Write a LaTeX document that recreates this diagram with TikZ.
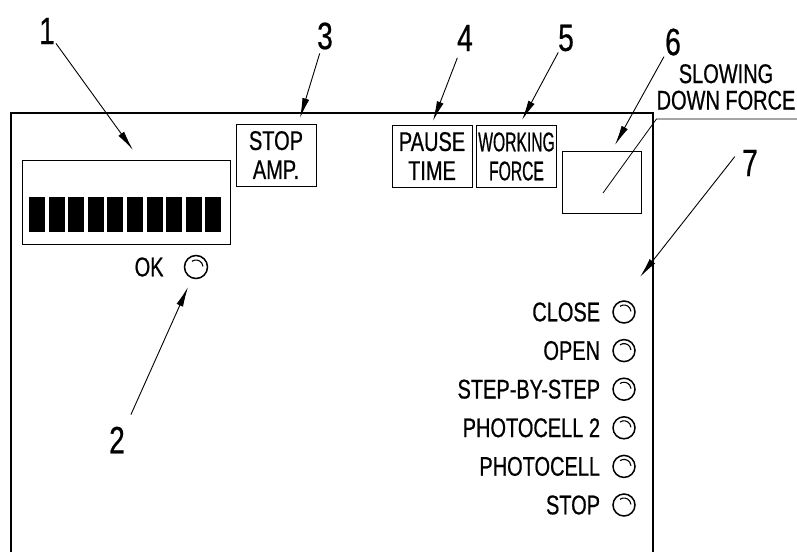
\documentclass[tikz,border=0pt]{standalone}
\usepackage{fontspec}
\setmainfont[FakeStretch=0.74, FakeBold=0.6]{Liberation Sans}
\newfontfamily\narrowfont[FakeStretch=0.58, FakeBold=0.6]{Liberation Sans}
\usetikzlibrary{arrows.meta, positioning}

\begin{document}
\begin{tikzpicture}[x=1pt, y=-1pt,
	lbl/.style={font=\fontsize{27}{29}\selectfont, inner sep=0pt},
	num/.style={font=\fontsize{38}{38}\selectfont, inner sep=1pt},
	knob/.style={draw, line width=1pt, align=center, inner sep=0pt,
		minimum width=80pt, minimum height=62pt, font=\fontsize{27}{29}\selectfont},
	led/.style={circle, draw, line width=1.5pt, minimum size=22pt, inner sep=0pt},
	callout/.style={-{Latex[length=20pt, width=7pt]}, line width=0.9pt}]
	\useasboundingbox (0,0) rectangle (797,552);
	% panel and display
	\draw[line width=1.2pt] (11,552) -- (11,113) -- (653,113) -- (653,552);
	\draw[line width=1pt] (22,160) rectangle (230,244);
	\foreach \i in {0,...,9} \fill (29+19.6*\i,197) rectangle ++(16,35);
	\node[knob] (stopamp) at (276,155) {STOP\\AMP.};
	\node[knob] (pause) at (432,156) {PAUSE\\TIME};
	\node[knob, font=\fontsize{27}{29}\narrowfont] (work) at (516.5,156.5) {WORKING\\FORCE};
	\node[knob, minimum width=79pt] (slow) at (601.5,182) {};
	\node[lbl, align=center, inner ysep=9pt, font=\fontsize{27}{26.5}\selectfont] (slowlbl)
		at (726,87) {SLOWING\\DOWN FORCE};
	\draw[line width=0.8pt] ([shift={(1.5,11)}]slow.center) -- (slowlbl.south west) -- (797,119);
	\node[led, minimum size=23pt] (ok) at (196,267) {};
	\node[lbl, left=20pt of ok] (oklbl) {OK};
	\foreach \t [count=\i] in {CLOSE,OPEN,STEP-BY-STEP,PHOTOCELL 2,PHOTOCELL,STOP} {
		\node[led] (led\i) at (624,{312+38.6*(\i-1)}) {};
		\node[lbl, left=12pt of led\i] (lbl\i) {\t};
	}
	\foreach \p in {ok,led1,led2,led3,led4,led5,led6}
		\draw[line width=1.1pt] (\p.center) ++(-125:7) arc[start angle=-125, end angle=-5, radius=7];
	\node[num] (n1) at (47,31) {1};
	\node[num] (n2) at (117,440) {2};
	\node[num] (n3) at (325,36) {3};
	\node[num] (n4) at (465,38) {4};
	\node[num] (n5) at (566,38) {5};
	\node[num] (n6) at (673,42) {6};
	\node[num] (n7) at (750,163) {7};
	\coordinate (t1) at (133,150); \coordinate (t2) at (188,287);
	\coordinate (t3) at (300,118); \coordinate (t4) at (433,121);
	\coordinate (t5) at (522,120); \coordinate (t6) at (615,145);
	\coordinate (t7) at (640,277);
	\draw[callout] (n1) -- (t1);
	\draw[callout, shorten <=12pt] (n2.north east) -- (t2);
	\draw[callout, shorten <=3pt] (n3) -- (t3);
	\draw[callout, shorten <=6pt] (n4) -- (t4);
	\draw[callout] (n5) -- (t5);
	\draw[callout] (n6.south west) -- (t6);
	\draw[callout, shorten <=10pt] (n7.north west) -- (t7);
\end{tikzpicture}
\end{document}
